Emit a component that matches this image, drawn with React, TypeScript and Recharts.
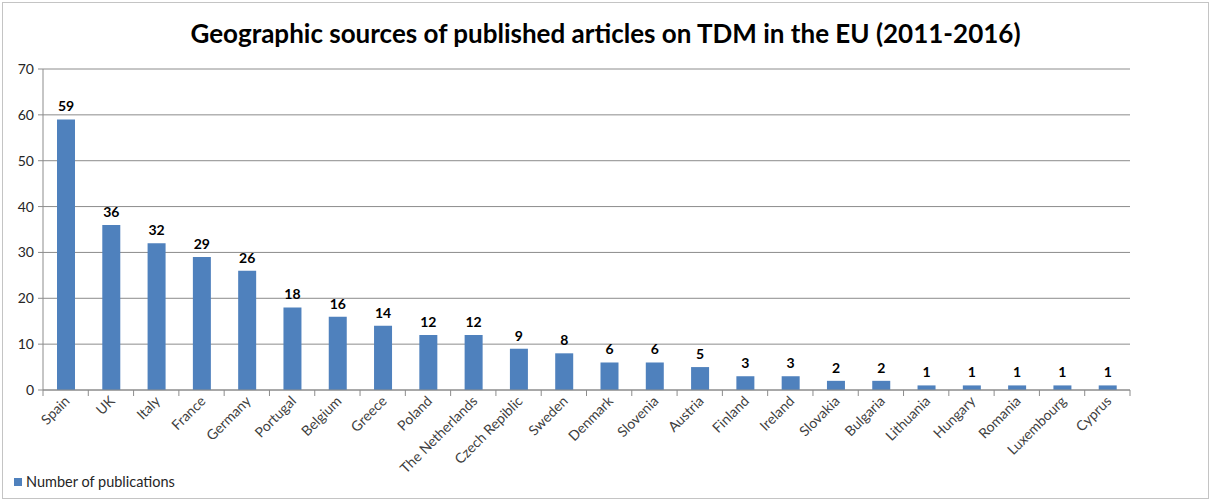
import { Bar, BarChart, CartesianGrid, LabelList, XAxis, YAxis } from 'recharts';

const COUNTRIES = [
  'Spain', 'UK', 'Italy', 'France', 'Germany', 'Portugal', 'Belgium', 'Greece',
  'Poland', 'The Netherlands', 'Czech Repiblic', 'Sweden', 'Denmark', 'Slovenia',
  'Austria', 'Finland', 'Ireland', 'Slovakia', 'Bulgaria', 'Lithuania', 'Hungary',
  'Romania', 'Luxembourg', 'Cyprus',
];
const PUBLICATIONS = [59, 36, 32, 29, 26, 18, 16, 14, 12, 12, 9, 8, 6, 6, 5, 3, 3, 2, 2, 1, 1, 1, 1, 1];
const Y_TICKS = [0, 10, 20, 30, 40, 50, 60, 70];

const data = COUNTRIES.map((country, i) => ({ country, count: PUBLICATIONS[i] }));

const FONT = 'Lato, "Open Sans", sans-serif';
const BLUE = '#4F81BD';
const GRID = '#8c8c8c';

if (typeof document !== 'undefined') document.body.style.margin = '0';

// rotated label + excel-style tick marks on the category boundaries
function CountryTick(props: any) {
  const { payload, index, visibleTicksCount } = props;
  const x = Number(props.x);
  const y = Number(props.y);
  const half = Number(payload?.offset) || 0;
  const axisY = y - 8;
  const isLast = index === visibleTicksCount - 1;
  return (
    <g>
      <line x1={x - half} x2={x - half} y1={axisY} y2={axisY + 6} stroke={GRID} />
      {isLast && <line x1={x + half} x2={x + half} y1={axisY} y2={axisY + 6} stroke={GRID} />}
      <text
        x={x + 5}
        y={y + 4}
        transform={`rotate(-45, ${x + 5}, ${y + 4})`}
        textAnchor="end"
        fontSize={14}
        fontFamily={FONT}
        fill="#404040"
      >
        {payload.value}
      </text>
    </g>
  );
}

export default function App() {
  return (
    <div style={{ position: 'relative', width: 1211, height: 501, background: '#fff', fontFamily: FONT }}>
      <div
        style={{
          position: 'absolute', left: 2, top: 2, width: 1205, height: 495,
          border: '1px solid #c4c4c4', pointerEvents: 'none',
        }}
      />
      <div
        style={{
          position: 'absolute', left: 0, top: 17, width: 1211, textAlign: 'center',
          fontSize: 26, fontWeight: 700, color: '#000',
        }}
      >
        Geographic sources of published articles on TDM in the EU (2011-2016)
      </div>
      <BarChart
        width={1211}
        height={501}
        data={data}
        margin={{ top: 69, right: 81, left: 0, bottom: 0 }}
      >
        <CartesianGrid vertical={false} stroke={GRID} strokeWidth={1} />
        <XAxis
          dataKey="country"
          interval={0}
          tickLine={false}
          tickSize={0}
          tickMargin={8}
          axisLine={{ stroke: GRID }}
          tick={<CountryTick />}
          height={111}
        />
        <YAxis
          domain={[0, 70]}
          ticks={Y_TICKS}
          width={43}
          tickSize={5}
          tickMargin={4}
          axisLine={{ stroke: GRID }}
          tickLine={{ stroke: GRID }}
          tick={{ fill: '#262626', fontSize: 14, fontFamily: FONT }}
        />
        <Bar dataKey="count" fill={BLUE} barSize={18} isAnimationActive={false}>
          <LabelList
            dataKey="count"
            position="top"
            offset={8}
            fill="#000"
            fontSize={14}
            fontWeight={700}
            fontFamily={FONT}
          />
        </Bar>
      </BarChart>
      <div
        style={{
          position: 'absolute', left: 14, top: 473, display: 'flex', alignItems: 'center',
          fontSize: 14.5, color: '#262626',
        }}
      >
        <span style={{ display: 'inline-block', width: 8, height: 8, background: BLUE, marginRight: 4 }} />
        Number of publications
      </div>
    </div>
  );
}
